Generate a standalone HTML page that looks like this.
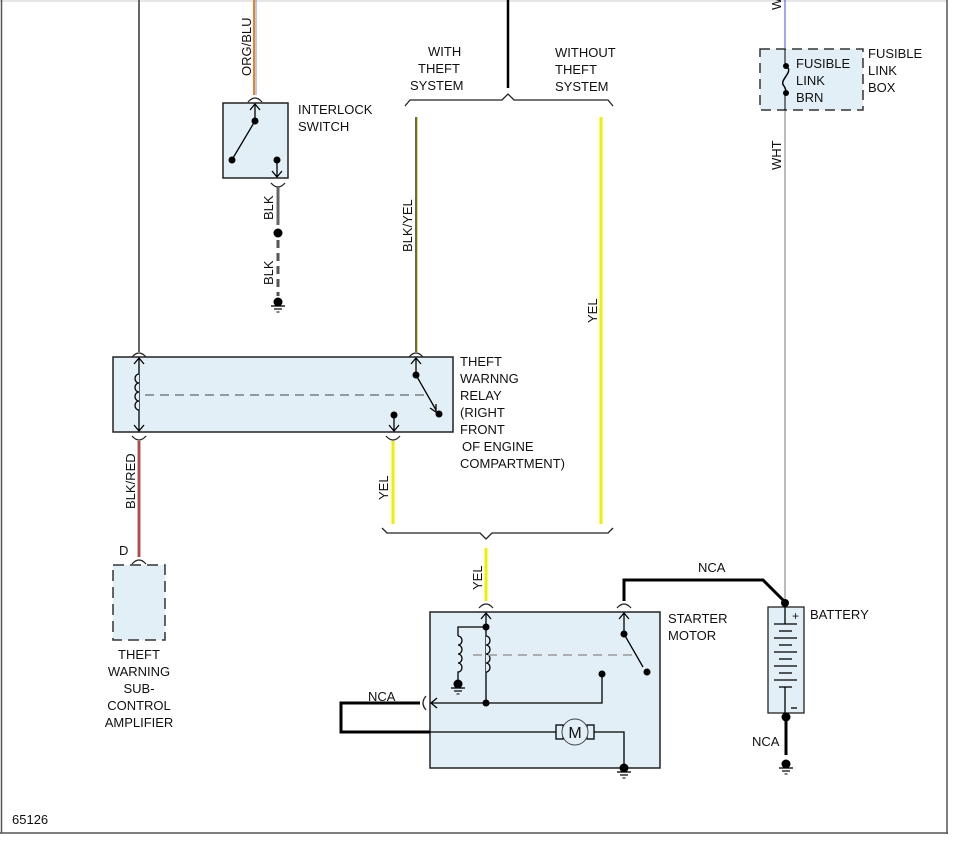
<!DOCTYPE html>
<html><head><meta charset="utf-8"><style>
html,body{margin:0;padding:0;background:#fff;}
svg{display:block;}
text{font-family:"Liberation Sans",sans-serif;font-size:13px;fill:#111;}
</style></head><body>
<svg width="956" height="844" viewBox="0 0 956 844" xmlns="http://www.w3.org/2000/svg">
<defs>
<g id="cup"><path d="M-7,5 Q0,-3 7,5" fill="none" stroke="#222" stroke-width="1.3"/></g>
<g id="cupd"><path d="M-7,-5 Q0,3 7,-5" fill="none" stroke="#222" stroke-width="1.3"/></g>
<g id="gnd"><circle cx="0" cy="0" r="4.5" fill="#000"/><line x1="-7" y1="4" x2="7" y2="4" stroke="#000" stroke-width="1.3"/><line x1="-4" y1="7" x2="4" y2="7" stroke="#000" stroke-width="1.2"/><line x1="-1.5" y1="10" x2="1.5" y2="10" stroke="#000" stroke-width="1"/></g>
</defs>
<line x1="0" y1="1" x2="947" y2="1" stroke="#ccc" stroke-width="1"/>
<line x1="1.5" y1="0" x2="1.5" y2="833" stroke="#555" stroke-width="1.5"/>
<line x1="947" y1="0" x2="947" y2="834" stroke="#555" stroke-width="1.5"/>
<line x1="0" y1="833" x2="948" y2="833" stroke="#555" stroke-width="1.5"/>
<text x="12" y="824">65126</text>

<line x1="139" y1="0" x2="139" y2="352" stroke="#666" stroke-width="2"/>
<use href="#cup" x="139" y="352"/>
<line x1="254" y1="0" x2="254" y2="95" stroke="#f08020" stroke-width="2"/>
<line x1="256" y1="0" x2="256" y2="95" stroke="#7090e0" stroke-width="1"/>
<use href="#cup" x="255" y="97"/>
<text transform="translate(251,76) rotate(-90)">ORG/BLU</text>
<rect x="223" y="103" width="65" height="75" fill="#e2eff7" stroke="#222" stroke-width="1.5"/>
<line x1="255" y1="104" x2="255" y2="121" stroke="#000" stroke-width="1.3"/>
<path d="M250,110 L255,104 L260,110" fill="none" stroke="#000" stroke-width="1.3"/>
<circle cx="255" cy="121" r="3.5" fill="#000"/>
<line x1="255" y1="121" x2="233" y2="158" stroke="#000" stroke-width="1.3"/>
<circle cx="232" cy="160" r="3.5" fill="#000"/>
<circle cx="277" cy="160" r="3.5" fill="#000"/>
<line x1="277" y1="160" x2="277" y2="176" stroke="#000" stroke-width="1.3"/>
<path d="M272,171 L277,177 L282,171" fill="none" stroke="#000" stroke-width="1.3"/>
<text x="298" y="114">INTERLOCK</text><text x="298" y="131">SWITCH</text>
<use href="#cupd" x="278" y="188"/>
<line x1="278" y1="187" x2="278" y2="225" stroke="#666" stroke-width="3"/>
<text transform="translate(273,220) rotate(-90)">BLK</text>
<circle cx="278" cy="233" r="4.5" fill="#000"/>
<line x1="278" y1="240" x2="278" y2="296" stroke="#555" stroke-width="3" stroke-dasharray="8,5"/>
<text transform="translate(273,285) rotate(-90)">BLK</text>
<use href="#gnd" x="278" y="302"/>

<line x1="508" y1="0" x2="508" y2="88" stroke="#000" stroke-width="2.5"/>
<path d="M405,106 L410,100 L502,100 L508,94 L514,100 L608,100 L613,106" fill="none" stroke="#222" stroke-width="1.3"/>
<text x="428" y="56">WITH</text><text x="418" y="73">THEFT</text><text x="410" y="90">SYSTEM</text>
<text x="555" y="57">WITHOUT</text><text x="555" y="74">THEFT</text><text x="555" y="91">SYSTEM</text>
<line x1="416" y1="117" x2="416" y2="352" stroke="#666" stroke-width="2"/>
<line x1="417.5" y1="117" x2="417.5" y2="352" stroke="#e8e000" stroke-width="0.8"/>
<use href="#cup" x="416" y="352"/>
<text transform="translate(412,252) rotate(-90)">BLK/YEL</text>
<line x1="601" y1="117" x2="601" y2="524" stroke="#f2ee00" stroke-width="3"/>
<text transform="translate(597,323) rotate(-90)">YEL</text>

<rect x="113" y="357" width="340" height="75" fill="#e2eff7" stroke="#222" stroke-width="1.5"/>
<line x1="139" y1="358" x2="139" y2="431" stroke="#000" stroke-width="1.3"/>
<path d="M134,364 L139,358 L144,364 M134,425 L139,431 L144,425" fill="none" stroke="#000" stroke-width="1.3"/>
<path d="M139,374 a4,4.5 0 0 0 0,9 a4,4.5 0 0 0 0,9 a4,4.5 0 0 0 0,9 a4,4.5 0 0 0 0,9" fill="#e2eff7" stroke="#000" stroke-width="1.3"/>
<line x1="145" y1="395" x2="430" y2="395" stroke="#444" stroke-width="1" stroke-dasharray="9,6"/>
<line x1="416" y1="358" x2="416" y2="375" stroke="#000" stroke-width="1.3"/>
<path d="M411,364 L416,358 L421,364" fill="none" stroke="#000" stroke-width="1.3"/>
<circle cx="416" cy="375" r="3.5" fill="#000"/>
<line x1="416" y1="375" x2="436" y2="410" stroke="#000" stroke-width="1.3"/>
<path d="M430,408 L436,412 L436,404" fill="none" stroke="#000" stroke-width="1.3"/>
<circle cx="439" cy="414" r="3.5" fill="#000"/>
<circle cx="394" cy="415" r="3.5" fill="#000"/>
<line x1="394" y1="415" x2="394" y2="431" stroke="#000" stroke-width="1.3"/>
<path d="M389,425 L394,431 L399,425" fill="none" stroke="#000" stroke-width="1.3"/>
<text x="460" y="366">THEFT</text><text x="460" y="383">WARNNG</text><text x="460" y="400">RELAY</text>
<text x="460" y="417">(RIGHT</text><text x="460" y="434">FRONT</text><text x="462" y="451">OF ENGINE</text>
<text x="460" y="468">COMPARTMENT)</text>
<use href="#cupd" x="139" y="441"/>
<use href="#cupd" x="393" y="441"/>
<line x1="139" y1="441" x2="139" y2="557" stroke="#777" stroke-width="3"/>
<line x1="139" y1="441" x2="139" y2="557" stroke="#e03030" stroke-width="1.5"/>
<text transform="translate(135,509) rotate(-90)">BLK/RED</text>
<text x="119" y="555">D</text>
<use href="#cup" x="139" y="559"/>
<rect x="113" y="565" width="52" height="75" fill="#e2eff7" stroke="#333" stroke-width="1.5" stroke-dasharray="11,6"/>
<text x="139" y="659" text-anchor="middle">THEFT</text><text x="139" y="676" text-anchor="middle">WARNING</text>
<text x="139" y="693" text-anchor="middle">SUB-</text><text x="139" y="710" text-anchor="middle">CONTROL</text>
<text x="139" y="727" text-anchor="middle">AMPLIFIER</text>
<line x1="393" y1="441" x2="393" y2="524" stroke="#f2ee00" stroke-width="3"/>
<text transform="translate(388,500) rotate(-90)">YEL</text>
<path d="M382,528 L387,533 L480,533 L486,539 L492,533 L608,533 L613,528" fill="none" stroke="#222" stroke-width="1.3"/>
<line x1="486" y1="548" x2="486" y2="601" stroke="#f2ee00" stroke-width="3"/>
<text transform="translate(482,590) rotate(-90)">YEL</text>
<use href="#cup" x="486" y="603"/>

<rect x="430" y="612" width="230" height="156" fill="#e2eff7" stroke="#222" stroke-width="1.5"/>
<line x1="486" y1="613" x2="486" y2="703" stroke="#000" stroke-width="1.3"/>
<path d="M481,619 L486,613 L491,619" fill="none" stroke="#000" stroke-width="1.3"/>
<circle cx="486" cy="627" r="3.5" fill="#000"/>
<path d="M486,627 L458,627 L458,636" fill="none" stroke="#000" stroke-width="1.3"/>
<path d="M458,636 a4,4.5 0 0 1 0,9 a4,4.5 0 0 1 0,9 a4,4.5 0 0 1 0,9 a4,4.5 0 0 1 0,9 L458,683" fill="#e2eff7" stroke="#000" stroke-width="1.3"/>
<path d="M486,636 a4,4.5 0 0 1 0,9 a4,4.5 0 0 1 0,9 a4,4.5 0 0 1 0,9 a4,4.5 0 0 1 0,9" fill="#e2eff7" stroke="#000" stroke-width="1.3"/>
<use href="#gnd" x="458" y="684"/>
<line x1="473" y1="655" x2="632" y2="655" stroke="#999" stroke-width="1.5" stroke-dasharray="9,6"/>
<path d="M432,703 L602,703 L602,674" fill="none" stroke="#000" stroke-width="1.3"/>
<circle cx="486" cy="703" r="3.5" fill="#000"/>
<circle cx="602" cy="674" r="3.5" fill="#000"/>
<path d="M437,698 L431,703 L437,708" fill="none" stroke="#000" stroke-width="1.3"/>
<path d="M426,696 Q420,703 426,710" fill="none" stroke="#222" stroke-width="1.3"/>
<text x="368" y="701">NCA</text>
<path d="M420,703 L341,703 L341,732 L430,732" fill="none" stroke="#000" stroke-width="3"/>
<line x1="430" y1="732" x2="556" y2="732" stroke="#000" stroke-width="1.3"/>
<rect x="556" y="725" width="7" height="14" fill="#e2eff7" stroke="#000" stroke-width="1.3"/>
<rect x="587" y="725" width="7" height="14" fill="#e2eff7" stroke="#000" stroke-width="1.3"/>
<circle cx="575" cy="732" r="13" fill="#e2eff7" stroke="#444" stroke-width="1"/>
<text x="575" y="738" text-anchor="middle" style="font-size:16px">M</text>
<path d="M594,732 L624,732 L624,768" fill="none" stroke="#000" stroke-width="1.3"/>
<use href="#gnd" x="624" y="768"/>
<line x1="624" y1="613" x2="624" y2="633" stroke="#000" stroke-width="1.3"/>
<path d="M619,619 L624,613 L629,619" fill="none" stroke="#000" stroke-width="1.3"/>
<circle cx="624" cy="634" r="3.5" fill="#000"/>
<line x1="624" y1="634" x2="643" y2="667" stroke="#000" stroke-width="1.3"/>
<circle cx="647" cy="672" r="3.5" fill="#000"/>
<use href="#cup" x="624" y="603"/>
<path d="M624,601 L624,580 L763,580 L785,602" fill="none" stroke="#000" stroke-width="3"/>
<text x="698" y="572">NCA</text>
<text x="668" y="623">STARTER</text><text x="668" y="640">MOTOR</text>

<line x1="785" y1="0" x2="785" y2="48" stroke="#4050d0" stroke-width="1"/>
<line x1="785" y1="110" x2="785" y2="600" stroke="#bbb" stroke-width="2"/>
<text transform="translate(781,10) rotate(-90)">W</text>
<rect x="760" y="49" width="103" height="61" fill="#e2eff7" stroke="#333" stroke-width="1.5" stroke-dasharray="10,6"/>
<line x1="785" y1="49" x2="785" y2="65" stroke="#000" stroke-width="1"/>
<line x1="785" y1="94" x2="785" y2="110" stroke="#000" stroke-width="1"/>
<circle cx="786" cy="66" r="3" fill="#000"/><circle cx="786" cy="93" r="3" fill="#000"/>
<path d="M786,66 C795,72 778,80 784,86 C786,89 786,92 786,93" fill="none" stroke="#000" stroke-width="1.5"/>
<text x="796" y="68">FUSIBLE</text><text x="796" y="85">LINK</text><text x="796" y="102">BRN</text>
<text x="868" y="58">FUSIBLE</text><text x="868" y="75">LINK</text><text x="868" y="92">BOX</text>
<text transform="translate(781,170) rotate(-90)">WHT</text>

<rect x="768" y="607" width="36" height="106" fill="#e2eff7" stroke="#222" stroke-width="1.3"/>
<circle cx="785" cy="603" r="4" fill="#000"/>
<line x1="785" y1="603" x2="785" y2="624" stroke="#000" stroke-width="1.3"/>
<text x="792" y="620" style="font-size:12px">+</text>
<g stroke="#000" stroke-width="1.3">
<line x1="774" y1="624" x2="797" y2="624"/><line x1="779" y1="631" x2="792" y2="631"/>
<line x1="774" y1="638" x2="797" y2="638"/><line x1="779" y1="645" x2="792" y2="645"/>
<line x1="774" y1="652" x2="797" y2="652"/><line x1="779" y1="659" x2="792" y2="659"/>
<line x1="774" y1="666" x2="797" y2="666"/><line x1="779" y1="673" x2="792" y2="673"/>
<line x1="774" y1="680" x2="797" y2="680"/><line x1="779" y1="687" x2="792" y2="687"/>
<line x1="785" y1="687" x2="785" y2="718"/>
<line x1="791" y1="708" x2="797" y2="708"/>
</g>
<text x="810" y="619">BATTERY</text>
<circle cx="786" cy="717" r="4.5" fill="#000"/>
<line x1="786" y1="717" x2="786" y2="755" stroke="#000" stroke-width="3"/>
<text x="752" y="746">NCA</text>
<use href="#gnd" x="786" y="764"/>
</svg>
</body></html>
